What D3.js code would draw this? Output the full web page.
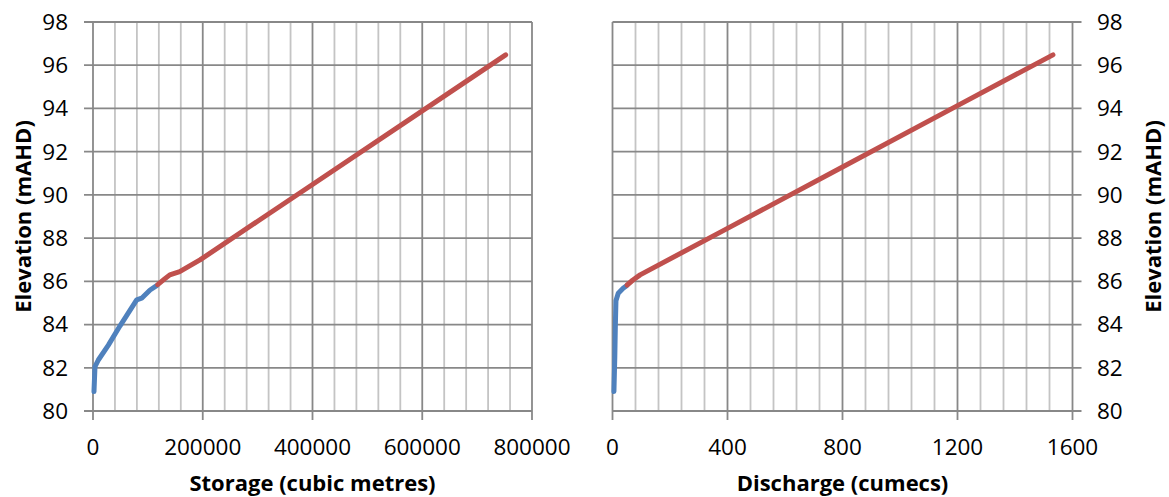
<!DOCTYPE html>
<html>
<head>
<meta charset="utf-8">
<script src="https://cdn.jsdelivr.net/npm/d3@7"></script>
<style>
  html, body { margin: 0; padding: 0; background: #ffffff; }
  svg { display: block; }
  text { font-family: "Open Sans", "Liberation Sans", sans-serif; fill: #000; }
</style>
</head>
<body>
<svg id="chart" width="1169" height="497"></svg>
<script>
// Elevation range shared by both panels (mAHD)
const elevTicks = [80, 82, 84, 86, 88, 90, 92, 94, 96, 98];

// Storage curve: [storage (m³), elevation (mAHD)]
const storageLower = [
  [1800, 80.9], [3600, 82.05], [9700, 82.36], [28000, 83.05], [49000, 83.93],
  [79600, 85.14], [88700, 85.22], [104000, 85.6], [116000, 85.8]
];
const storageUpper = [
  [118000, 85.85], [130000, 86.1], [140000, 86.3], [158000, 86.45],
  [195000, 86.99], [300000, 88.78], [400000, 90.48], [600000, 93.89], [752000, 96.48]
];
const storageTicks = [0, 200000, 400000, 600000, 800000];

// Discharge curve: [discharge (cumecs), elevation (mAHD)]
const dischargeLower = [
  [5, 80.9], [8, 82.5], [10, 84.0], [12, 85.1], [20, 85.45], [37, 85.68], [49, 85.8]
];
const dischargeUpper = [
  [51, 85.83], [70, 86.05], [96, 86.3], [400, 88.45], [800, 91.29], [1200, 94.13], [1532, 96.48]
];
const dischargeTicks = [0, 400, 800, 1200, 1600];

const lowerColor = "#4f81bd";
const upperColor = "#c0504d";
const majorGrid = "#888888";
const minorGrid = "#c4c4c4";

const svg = d3.select("#chart");
svg.append("rect").attr("width", 1169).attr("height", 497).attr("fill", "#fff");

const y = d3.scaleLinear().domain([80, 98]).range([411, 22]);

function panel(opts) {
  const x = d3.scaleLinear().domain(opts.domain).range(opts.range);
  const g = svg.append("g");
  const [x0, x1] = opts.range;
  const yTop = y(98), yBot = y(80);

  // minor vertical grid
  const minorVals = d3.range(opts.domain[0], opts.domain[1] + 1e-9, opts.minorStep)
    .filter(v => !opts.ticks.includes(v));
  g.selectAll(".minor").data(minorVals).join("line")
    .attr("x1", d => x(d)).attr("x2", d => x(d))
    .attr("y1", yTop).attr("y2", yBot)
    .attr("stroke", minorGrid).attr("stroke-width", 1.8);

  // horizontal grid (extends over the tick marks on the axis side)
  const hx0 = opts.side === "left" ? x0 - 9 : x0;
  const hx1 = opts.side === "left" ? x1 : x1 + 9;
  g.selectAll(".hgrid").data(elevTicks).join("line")
    .attr("x1", hx0).attr("x2", hx1)
    .attr("y1", d => y(d)).attr("y2", d => y(d))
    .attr("stroke", majorGrid).attr("stroke-width", 1.8);

  // major vertical grid with tick marks below the axis
  g.selectAll(".major").data(opts.ticks).join("line")
    .attr("x1", d => x(d)).attr("x2", d => x(d))
    .attr("y1", yTop).attr("y2", yBot + 9)
    .attr("stroke", majorGrid).attr("stroke-width", 1.8);

  // x tick labels
  g.selectAll(".xlab").data(opts.ticks).join("text")
    .attr("x", d => x(d)).attr("y", 455)
    .attr("text-anchor", "middle")
    .style("font-size", "22.5px")
    .text(d => d3.format("d")(d));

  // y tick labels
  const yl = g.selectAll(".ylab").data(elevTicks).join("text")
    .attr("y", d => y(d)).attr("dy", "0.35em")
    .style("font-size", "22.5px")
    .text(d => d);
  if (opts.side === "left") yl.attr("x", 68).attr("text-anchor", "end");
  else yl.attr("x", 1097).attr("text-anchor", "start");

  // axis titles
  g.append("text")
    .attr("x", (x0 + x1) / 2).attr("y", 491)
    .attr("text-anchor", "middle")
    .style("font-size", "22px").style("font-weight", "bold")
    .text(opts.xTitle);
  const tx = opts.side === "left" ? 31 : 1161;
  g.append("text")
    .attr("transform", `translate(${tx},${(yTop + yBot) / 2}) rotate(-90)`)
    .attr("text-anchor", "middle")
    .style("font-size", "22px").style("font-weight", "bold")
    .text("Elevation (mAHD)");

  // curves
  [[opts.lower, lowerColor], [opts.upper, upperColor]].forEach(([data, color]) => {
    g.append("path").datum(data)
      .attr("d", d3.line().x(d => x(d[0])).y(d => y(d[1])))
      .attr("fill", "none").attr("stroke", color)
      .attr("stroke-width", 5)
      .attr("stroke-linecap", "round").attr("stroke-linejoin", "round");
  });
}

panel({
  domain: [0, 800000], range: [93, 532], ticks: storageTicks, minorStep: 40000,
  side: "left", xTitle: "Storage (cubic metres)",
  lower: storageLower, upper: storageUpper
});

panel({
  domain: [0, 1600], range: [612.5, 1072.5], ticks: dischargeTicks, minorStep: 80,
  side: "right", xTitle: "Discharge (cumecs)",
  lower: dischargeLower, upper: dischargeUpper
});
</script>
</body>
</html>
